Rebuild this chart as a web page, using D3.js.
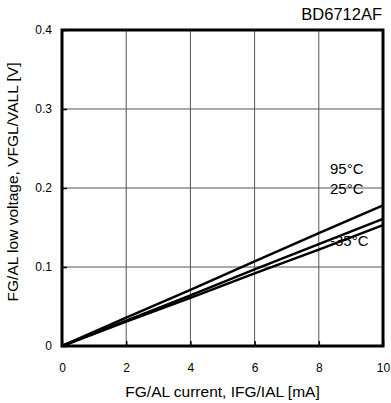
<!DOCTYPE html>
<html>
<head>
<meta charset="utf-8">
<script src="https://cdn.jsdelivr.net/npm/d3@7"></script>
<style>
  html, body { margin: 0; padding: 0; background: #fff; }
  svg { display: block; font-family: "Liberation Sans", Arial, sans-serif; }
</style>
</head>
<body>
<svg id="chart" width="391" height="403"></svg>
<script>
// ---- data ----
const currentMA = [0, 2, 4, 6, 8, 10];
const v95 = [0, 0.036, 0.071, 0.107, 0.143, 0.178];
const v25 = [0, 0.032, 0.064, 0.097, 0.129, 0.161];
const vM35 = [0, 0.031, 0.061, 0.092, 0.122, 0.153];
const seriesNames = ["95°C", "25°C", "-35°C"];
const xTicks = [0, 2, 4, 6, 8, 10];
const yTicks = [0, 0.1, 0.2, 0.3, 0.4];
const yTickLabels = ["0", "0.1", "0.2", "0.3", "0.4"];
const chartTitle = "BD6712AF";
const xTitle = "FG/AL current, IFG/IAL [mA]";
const yTitle = "FG/AL low voltage, VFGL/VALL [V]";

// ---- layout ----
const L = 62, R = 383, T = 30, B = 346;
const svg = d3.select("#chart");
const x = d3.scaleLinear().domain([0, 10]).range([L, R]);
const y = d3.scaleLinear().domain([0, 0.4]).range([B, T]);

// grid
const grid = svg.append("g");
grid.selectAll("line.vx").data(xTicks.slice(1, -1)).join("line")
  .attr("x1", d => x(d)).attr("x2", d => x(d))
  .attr("y1", T).attr("y2", B)
  .attr("stroke", "#555").attr("stroke-width", 1);
grid.selectAll("line.hy").data(yTicks.slice(1, -1)).join("line")
  .attr("x1", L).attr("x2", R)
  .attr("y1", d => y(d)).attr("y2", d => y(d))
  .attr("stroke", "#555").attr("stroke-width", 1);

// axes (tick labels + short inward ticks)
const xAxis = d3.axisBottom(x).tickValues(xTicks).tickSize(-5).tickPadding(17)
  .tickFormat(d3.format("d"));
const gx = svg.append("g").attr("transform", `translate(0,${B})`).call(xAxis);
const yAxis = d3.axisLeft(y).tickValues(yTicks).tickSize(-5).tickPadding(10)
  .tickFormat((d, i) => yTickLabels[i]);
const gy = svg.append("g").attr("transform", `translate(${L},0)`).call(yAxis);
[gx, gy].forEach(g => {
  g.select(".domain").remove();
  g.selectAll(".tick line").attr("stroke", "#000").attr("stroke-width", 1.5);
  g.selectAll(".tick text").attr("font-size", 12)
    .attr("font-family", "Liberation Sans, Arial, sans-serif").attr("fill", "#000");
});

// data lines
const line = d3.line().x((d, i) => x(currentMA[i])).y(d => y(d));
[v95, v25, vM35].forEach(s => {
  svg.append("path").datum(s).attr("d", line)
    .attr("fill", "none").attr("stroke", "#000").attr("stroke-width", 2.5);
});

// frame
svg.append("rect").attr("x", L).attr("y", T).attr("width", R - L).attr("height", B - T)
  .attr("fill", "none").attr("stroke", "#000").attr("stroke-width", 3);

// series labels
const labelY = [0.218, 0.192, 0.126];
seriesNames.forEach((n, i) => {
  svg.append("text").attr("x", x(8.35)).attr("y", y(labelY[i]))
    .attr("font-size", 15).attr("fill", "#000").text(n);
});

// titles
svg.append("text").attr("x", 382).attr("y", 20).attr("text-anchor", "end")
  .attr("font-size", 16.5).attr("fill", "#000").text(chartTitle);
svg.append("text").attr("x", (L + R) / 2).attr("y", 397).attr("text-anchor", "middle")
  .attr("font-size", 15.5).attr("fill", "#000").text(xTitle);
svg.append("text").attr("transform", `translate(18,${(T + B) / 2 - 6}) rotate(-90)`)
  .attr("text-anchor", "middle").attr("font-size", 15.5).attr("fill", "#000").text(yTitle);
</script>
</body>
</html>
